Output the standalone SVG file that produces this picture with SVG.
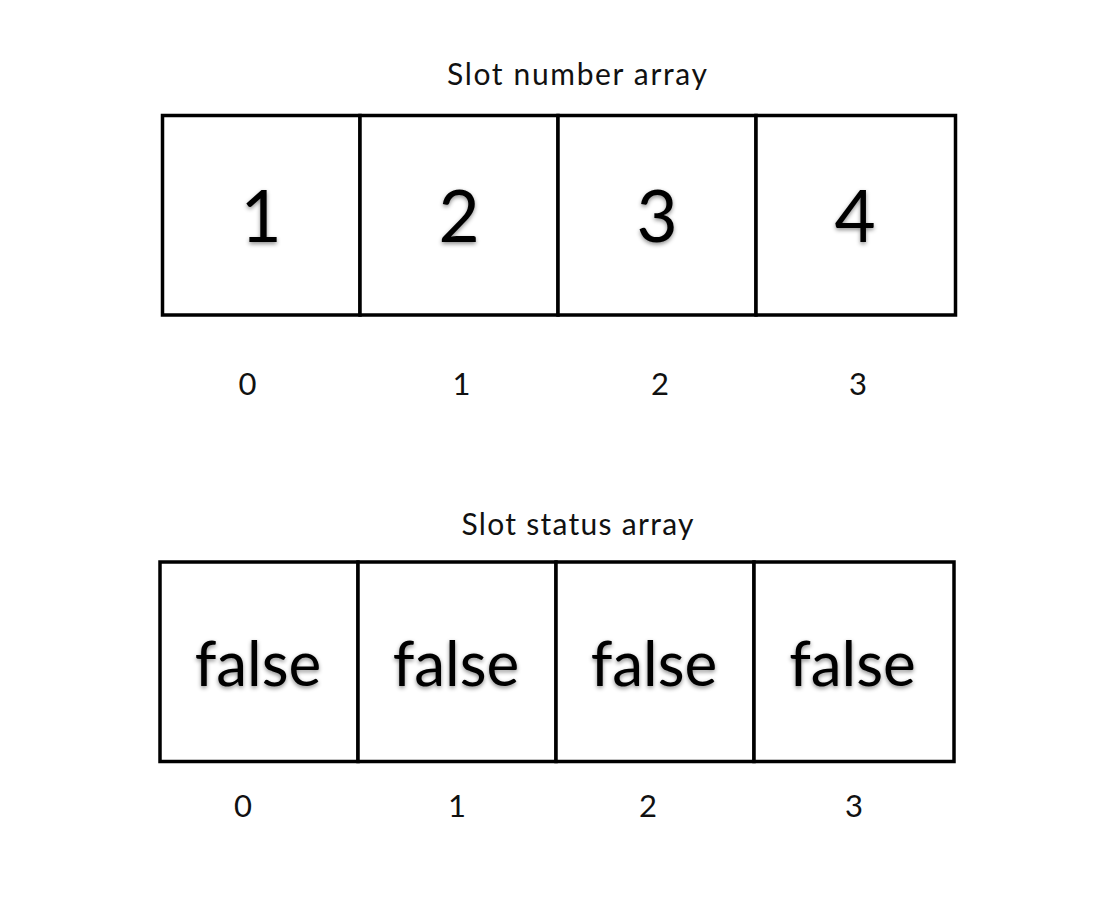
<svg xmlns="http://www.w3.org/2000/svg" width="1112" height="912" viewBox="0 0 1112 912">
<style>
.cell{fill:#fff;stroke:#000;stroke-width:3.5}
.big{font-family:Lato,"Open Sans","Liberation Sans",sans-serif;font-size:71px;fill:#000;text-anchor:middle}
.fl{font-family:Lato,"Open Sans","Liberation Sans",sans-serif;font-size:62px;fill:#000;text-anchor:middle}
.idx{font-family:Lato,"Open Sans","Liberation Sans",sans-serif;font-size:31px;fill:#111;text-anchor:middle}
.ttl{font-family:Lato,"Open Sans","Liberation Sans",sans-serif;font-size:30px;fill:#111;text-anchor:middle}
</style>
<defs>
<filter id="sh" x="-20%" y="-20%" width="140%" height="150%">
<feDropShadow dx="0" dy="2" stdDeviation="2" flood-color="#000" flood-opacity="0.45"/>
</filter>
</defs>
<rect width="1112" height="912" fill="#fff"/>
<g id="title-number"><text class="ttl" x="577" y="85" textLength="260" lengthAdjust="spacing">Slot number array</text></g>
<g id="num-0"><rect class="cell" x="162.5" y="115.5" width="197.5" height="199.5"/><text class="big" x="261" y="241.5" filter="url(#sh)">1</text></g>
<g id="num-1"><rect class="cell" x="360" y="115.5" width="198" height="199.5"/><text class="big" x="459" y="241.5" filter="url(#sh)">2</text></g>
<g id="num-2"><rect class="cell" x="558" y="115.5" width="198" height="199.5"/><text class="big" x="657" y="241.5" filter="url(#sh)">3</text></g>
<g id="num-3"><rect class="cell" x="756" y="115.5" width="199.5" height="199.5"/><text class="big" x="855" y="241.5" filter="url(#sh)">4</text></g>
<g id="num-idx">
<text class="idx" x="247.5" y="395">0</text>
<text class="idx" x="461.5" y="395">1</text>
<text class="idx" x="660" y="395">2</text>
<text class="idx" x="858" y="395">3</text>
</g>
<g id="title-status"><text class="ttl" x="577.5" y="535" textLength="232" lengthAdjust="spacing">Slot status array</text></g>
<g id="st-0"><rect class="cell" x="160" y="562" width="198" height="199.5"/><text class="fl" x="258" y="686" filter="url(#sh)">false</text></g>
<g id="st-1"><rect class="cell" x="358" y="562" width="198" height="199.5"/><text class="fl" x="456" y="686" filter="url(#sh)">false</text></g>
<g id="st-2"><rect class="cell" x="556" y="562" width="198" height="199.5"/><text class="fl" x="654" y="686" filter="url(#sh)">false</text></g>
<g id="st-3"><rect class="cell" x="754" y="562" width="200" height="199.5"/><text class="fl" x="852.5" y="686" filter="url(#sh)">false</text></g>
<g id="st-idx">
<text class="idx" x="243" y="817">0</text>
<text class="idx" x="457" y="817">1</text>
<text class="idx" x="648" y="817">2</text>
<text class="idx" x="854" y="817">3</text>
</g>
<g id="connectors"/>
</svg>
